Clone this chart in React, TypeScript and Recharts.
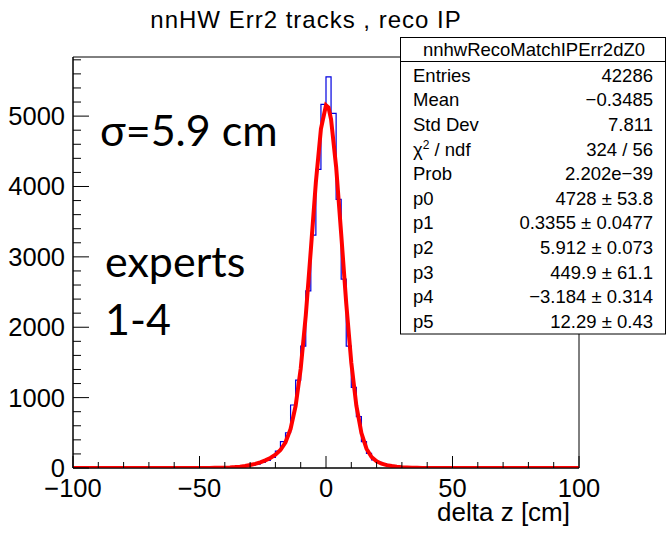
import { ComposedChart, Line, XAxis, YAxis, ReferenceArea } from 'recharts';

// histogram: 100 bins of width 2 from -100 to 100 (left edges)
const binLow = -100;
const binWidth = 2;
const histCounts = [
  0, 0, 0, 0, 0, 0, 0, 0, 0, 0, 0, 0, 0, 0, 0, 0, 0, 0, 0, 0, 0, 0, 0, 0, 0,
  1, 1, 2, 3, 4, 6, 9, 13, 19, 27, 40, 56, 78, 108, 150, 240, 374, 501, 895, 1250, 1733, 2518, 3310, 4243, 5166,
  5558, 5038, 3817, 2685, 1733, 1146, 729, 374, 209, 114, 80, 58, 40, 28, 19, 13, 9, 6, 4, 3, 2, 1, 1, 1, 0,
  0, 0, 0, 0, 0, 0, 0, 0, 0, 0, 0, 0, 0, 0, 0, 0, 0, 0, 0, 0, 0, 0, 0, 0, 0,
];

// fit curve read at these z positions
const fitZ = [
  -100, -60, -50, -48, -46, -44, -42, -40, -38, -36, -34, -32, -30, -28, -26, -24, -22, -20, -18, -16, -14, -12,
  -10, -8, -6, -4, -2, 0, 1, 2, 4, 6, 8, 10, 12, 14, 16, 18, 20, 22, 24, 26, 28, 30, 32, 34, 36, 38, 40, 44, 50,
  60, 100,
];
const fitCounts = [
  0, 0, 0.3, 0.5, 1, 1.8, 3.1, 5.1, 8.1, 12.7, 19.4, 28.8, 41.8, 58.6, 80.4, 108, 143, 189, 256, 365, 555, 884,
  1410, 2165, 3098, 4063, 4821, 5155, 5123, 4955, 4281, 3328, 2338, 1496, 885, 496, 274, 156, 95, 61, 40.6, 27.3,
  18, 11.8, 7.5, 4.6, 2.8, 1.6, 0.9, 0.3, 0, 0, 0,
];

const xTicks = [-100, -90, -80, -70, -60, -50, -40, -30, -20, -10, 0, 10, 20, 30, 40, 50, 60, 70, 80, 90, 100];
const xMajor = [-100, -50, 0, 50, 100];
const yTicks = [
  0, 200, 400, 600, 800, 1000, 1200, 1400, 1600, 1800, 2000, 2200, 2400, 2600, 2800, 3000, 3200, 3400, 3600,
  3800, 4000, 4200, 4400, 4600, 4800, 5000, 5200, 5400, 5600, 5800,
];
const yMajor = [0, 1000, 2000, 3000, 4000, 5000];
const yMax = 5840;

const statsTitle = 'nnhwRecoMatchIPErr2dZ0';
const statsLabels = ['Entries', 'Mean', 'Std Dev', 'chi2', 'Prob', 'p0', 'p1', 'p2', 'p3', 'p4', 'p5'];
const statsValues = [
  '42286', '\u22120.3485', '7.811', '324 / 56', '2.202e\u221239', '4728 \u00b1 53.8', '0.3355 \u00b1 0.0477',
  '5.912 \u00b1 0.073', '449.9 \u00b1 61.1', '\u22123.184 \u00b1 0.314', '12.29 \u00b1 0.43',
];

const histData = histCounts
  .map((c, i) => ({ z: binLow + i * binWidth, count: c }))
  .concat([{ z: binLow + histCounts.length * binWidth, count: histCounts[histCounts.length - 1] }]);
const fitData = fitZ.map((z, i) => ({ z, fit: fitCounts[i] }));

const rootFont = '"Liberation Sans", Arial, Helvetica, sans-serif';
const X_MARGIN = 10;
const Y_MARGIN = 8;

const fmt = (v: number) => String(v).replace('-', '\u2212');

function XTick(props: any) {
  const { x, y, payload } = props;
  const axisY = y - X_MARGIN;
  const major = xMajor.includes(payload.value);
  return (
    <g>
      <line x1={x} x2={x} y1={axisY} y2={axisY - (major ? 12 : 6)} stroke="#000" strokeWidth={1} />
      {major && (
        <text x={x} y={axisY + 28.5} textAnchor="middle" fontSize={25.5} fontFamily={rootFont} fill="#000">
          {fmt(payload.value)}
        </text>
      )}
    </g>
  );
}

function YTick(props: any) {
  const { x, y, payload } = props;
  const axisX = x + Y_MARGIN;
  const major = yMajor.includes(payload.value);
  return (
    <g>
      <line x1={axisX} x2={axisX + (major ? 16 : 8)} y1={y} y2={y} stroke="#000" strokeWidth={1} />
      {major && (
        <text x={x} y={y + 9} textAnchor="end" fontSize={25.5} fontFamily={rootFont} fill="#000">
          {payload.value}
        </text>
      )}
    </g>
  );
}

export default function App() {
  return (
    <div style={{ position: 'relative', width: 666, height: 534, background: '#fff' }}>
      <style>{'body{margin:0}'}</style>
      <ComposedChart width={666} height={534} margin={{ top: 57, right: 87, bottom: 6, left: 13 }}>
        <XAxis
          dataKey="z"
          type="number"
          domain={[-100, 100]}
          ticks={xTicks}
          interval={0}
          height={60}
          tickSize={0}
          tickMargin={X_MARGIN}
          tickLine={false}
          axisLine={{ stroke: '#000' }}
          tick={<XTick />}
          allowDataOverflow
        />
        <YAxis
          type="number"
          domain={[0, yMax]}
          ticks={yTicks}
          interval={0}
          width={60}
          tickSize={0}
          tickMargin={Y_MARGIN}
          tickLine={false}
          axisLine={{ stroke: '#000' }}
          tick={<YTick />}
          allowDataOverflow
        />
        <ReferenceArea x1={-100} x2={100} y1={0} y2={yMax} fill="none" stroke="#000" strokeWidth={1} />
        <Line
          data={histData}
          dataKey="count"
          type="stepAfter"
          stroke="#0000e0"
          strokeWidth={1.2}
          dot={false}
          activeDot={false}
          isAnimationActive={false}
        />
        <Line
          data={fitData}
          dataKey="fit"
          type="linear"
          stroke="#ff0000"
          strokeWidth={4}
          dot={false}
          activeDot={false}
          isAnimationActive={false}
        />
      </ComposedChart>
      <svg width={666} height={534} style={{ position: 'absolute', left: 0, top: 0, pointerEvents: 'none' }}>
        <text x={306} y={27.5} textAnchor="middle" fontSize={24} letterSpacing={1} fontFamily={rootFont} fill="#000">
          nnHW Err2 tracks , reco IP
        </text>
        <text x={570} y={521} textAnchor="end" fontSize={26} fontFamily={rootFont} fill="#000">
          delta z [cm]
        </text>
        <g fontFamily="Lato, 'Open Sans', sans-serif" fontSize={43} fill="#000">
          <text x={100} y={146}>σ=5.9 cm</text>
          <text x={105} y={277}>experts</text>
          <text x={105} y={335}>1-4</text>
        </g>
        <g fontFamily={rootFont} fontSize={18.5} fill="#000">
          <rect x={400.5} y={37.5} width={265} height={296.5} fill="#fff" stroke="#000" strokeWidth={1} />
          <line x1={400.5} x2={665.5} y1={61.5} y2={61.5} stroke="#000" strokeWidth={1} />
          <text x={534} y={56} textAnchor="middle">{statsTitle}</text>
          {statsLabels.map((lab, i) => (
            <g key={lab}>
              <text x={413} y={81.7 + i * 24.6}>
                {lab === 'chi2' ? (
                  <>
                    <tspan>χ</tspan>
                    <tspan dy={-7} fontSize={12}>2</tspan>
                    <tspan dy={7}> / ndf</tspan>
                  </>
                ) : (
                  lab
                )}
              </text>
              <text x={653} y={81.7 + i * 24.6} textAnchor="end">
                {statsValues[i]}
              </text>
            </g>
          ))}
        </g>
      </svg>
    </div>
  );
}
